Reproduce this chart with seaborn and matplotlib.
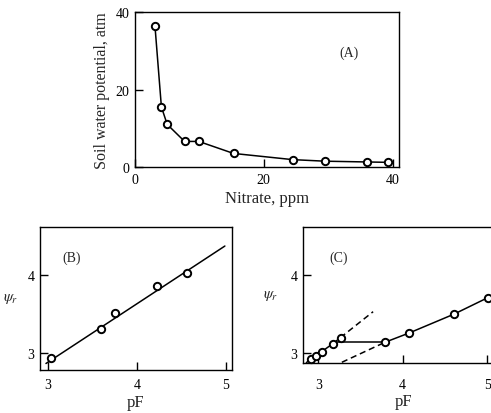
import numpy as np
import pandas as pd
import matplotlib
matplotlib.use("Agg")
import matplotlib.pyplot as plt
import seaborn as sns

sns.set_theme(style="ticks")
plt.rcParams['font.family'] = ['Liberation Serif', 'DejaVu Serif']
plt.rcParams['mathtext.fontset'] = 'stix'

# (A) soil water potential vs nitrate
a_nitrate = [3.1, 4.1, 5.0, 7.7, 9.9, 15.3, 24.5, 29.5, 36.0, 39.3]
a_potential = [36.4, 15.5, 11.0, 6.6, 6.6, 3.5, 1.9, 1.5, 1.3, 1.2]

# (B) psi vs pF with a fitted line
b_pf = [3.04, 3.60, 3.75, 4.23, 4.57]
b_psi = [2.94, 3.31, 3.51, 3.86, 4.03]
b_fit_x = [2.98, 4.99]
b_fit_y = [2.87, 4.37]

# (C) psi vs pF, two branches
c_pf = [2.91, 2.97, 3.04, 3.17, 3.27, 3.79, 4.08, 4.61, 5.01]
c_psi = [2.93, 2.96, 3.02, 3.12, 3.20, 3.14, 3.26, 3.50, 3.71]
c_low_x = [2.86, 2.91, 2.97, 3.04, 3.17]
c_low_y = [2.88, 2.93, 2.96, 3.02, 3.12]
c_low_ext_x = [3.17, 3.65]
c_low_ext_y = [3.12, 3.53]
c_jump_x = [3.20, 3.79]
c_jump_y = [3.14, 3.14]
c_high_x = [3.79, 4.08, 4.61, 5.01, 5.20]
c_high_y = [3.14, 3.26, 3.50, 3.71, 3.79]
c_high_ext_x = [3.28, 3.75]
c_high_ext_y = [2.885, 3.12]

W, H = 491, 414
fig = plt.figure(figsize=(W / 100, H / 100), dpi=100)
fig.patch.set_facecolor('white')


def px_axes(left, top, right, bottom):
    return fig.add_axes([left / W, 1 - bottom / H, (right - left) / W, (bottom - top) / H])


def style(ax, xpad=4):
    for s in ax.spines.values():
        s.set_linewidth(1.0)
        s.set_color('black')
    ax.tick_params(direction='in', length=6, width=1.0, labelsize=10, colors='black', pad=4)
    ax.tick_params(axis='x', pad=xpad)
    ax.set_facecolor('white')


def points(ax, x, y):
    sns.scatterplot(x=x, y=y, ax=ax, marker='o', s=28, facecolor='white',
                    edgecolor='black', linewidth=1.4, zorder=3, clip_on=False)


def line(ax, x, y, dashed=False):
    sns.lineplot(x=x, y=y, ax=ax, color='black', lw=1.1, sort=False,
                 linestyle=(0, (4, 2.5)) if dashed else '-', zorder=2)


# Panel A
ax_a = px_axes(135, 13, 399, 168)
line(ax_a, a_nitrate, a_potential)
points(ax_a, a_nitrate, a_potential)
ax_a.set_xlim(0, 41)
ax_a.set_ylim(0, 40)
ax_a.set_xticks([0, 20, 40])
ax_a.set_yticks([0, 20, 40])
ax_a.set_xlabel('Nitrate, ppm', fontsize=12, labelpad=3)
ax_a.set_ylabel('Soil water potential, atm', fontsize=11.5, labelpad=4)
ax_a.text(33.2, 29.7, '(A)', fontsize=10, ha='center', va='center')
style(ax_a)

# Panel B
ax_b = px_axes(40, 228, 232, 371)
line(ax_b, b_fit_x, b_fit_y)
points(ax_b, b_pf, b_psi)
ax_b.set_xlim(2.913, 5.07)
ax_b.set_ylim(2.787, 4.613)
ax_b.set_xticks([3, 4, 5])
ax_b.set_yticks([3, 4])
ax_b.set_xlabel('pF', fontsize=12, labelpad=2)
ax_b.set_ylabel(r'$\psi_r$', fontsize=11, rotation=0, labelpad=12, va='center')
ax_b.text(3.27, 4.23, '(B)', fontsize=10, ha='center', va='center')
style(ax_b, xpad=6)

# Panel C (runs past the right edge of the figure)
ax_c = px_axes(303, 228, 504, 364)
line(ax_c, c_low_x, c_low_y)
line(ax_c, c_low_ext_x, c_low_ext_y, dashed=True)
line(ax_c, c_jump_x, c_jump_y)
line(ax_c, c_high_ext_x, c_high_ext_y, dashed=True)
line(ax_c, c_high_x, c_high_y)
points(ax_c, c_pf, c_psi)
ax_c.set_xlim(2.82, 5.2)
ax_c.set_ylim(2.876, 4.61)
ax_c.set_xticks([3, 4, 5])
ax_c.set_yticks([3, 4])
ax_c.set_xlabel('pF', fontsize=12, labelpad=1)
ax_c.set_ylabel(r'$\psi_r$', fontsize=11, rotation=0, labelpad=14, va='center')
ax_c.text(3.24, 4.23, '(C)', fontsize=10, ha='center', va='center')
style(ax_c, xpad=11)

fig.savefig('out.png', dpi=100, facecolor='white')
